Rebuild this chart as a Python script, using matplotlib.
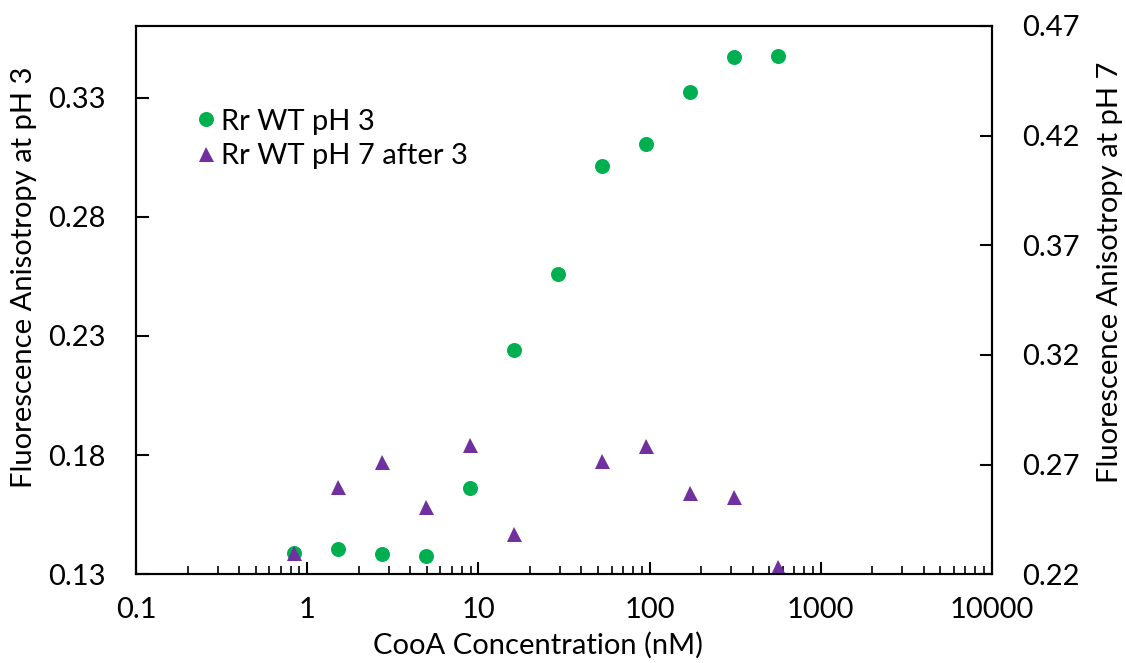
import matplotlib

matplotlib.use("Agg")
import matplotlib.pyplot as plt
from matplotlib.lines import Line2D
from matplotlib.ticker import FixedLocator, LogLocator, NullFormatter

# CooA concentration (nM)
conc_ph3 = [0.84, 1.52, 2.75, 4.94, 8.93, 16.1, 29.2, 52.7, 95.3, 172, 311, 562]
aniso_ph3 = [0.1388, 0.1407, 0.1384, 0.1377, 0.1663, 0.2241, 0.2560,
             0.3013, 0.3105, 0.3323, 0.3470, 0.3474]

conc_ph7 = [0.84, 1.52, 2.75, 4.94, 8.93, 16.1, 52.7, 95.3, 172, 311, 562]
aniso_ph7 = [0.2297, 0.2599, 0.2713, 0.2505, 0.2790, 0.2382, 0.2717,
             0.2785, 0.2569, 0.2554, 0.2235]

left_ticks = [0.13, 0.18, 0.23, 0.28, 0.33]
right_ticks = [0.22, 0.27, 0.32, 0.37, 0.42, 0.47]
x_ticks = [0.1, 1, 10, 100, 1000, 10000]
x_labels = ["0.1", "1", "10", "100", "1000", "10000"]

GREEN = "#00B050"
PURPLE = "#7030A0"
FS = 21

plt.rcParams.update({"font.family": ["Lato", "DejaVu Sans"], "font.size": FS})

fig = plt.figure(figsize=(11.26, 6.63), dpi=100)
ax = fig.add_axes([136 / 1126, 1 - 574.3 / 663, 856 / 1126, 548.3 / 663])
ax2 = ax.twinx()

ax.plot(conc_ph3, aniso_ph3, "o", color=GREEN, markersize=10.8, markeredgewidth=0)
ax2.plot(conc_ph7, aniso_ph7, "^", color=PURPLE, markersize=10.8, markeredgewidth=0)

ax.set_xscale("log")
ax.set_xlim(0.1, 10000)
ax.xaxis.set_major_locator(FixedLocator(x_ticks))
ax.set_xticklabels(x_labels)
ax.xaxis.set_minor_locator(LogLocator(base=10, subs=range(2, 10), numticks=20))
ax.xaxis.set_minor_formatter(NullFormatter())

ax.set_ylim(0.13, 0.36)
ax.set_yticks(left_ticks)
ax.set_yticklabels([f"{v:.2f}" for v in left_ticks])
ax2.set_ylim(0.22, 0.47)
ax2.set_yticks(right_ticks)
ax2.set_yticklabels([f"{v:.2f}" for v in right_ticks])

for a in (ax, ax2):
    for s in a.spines.values():
        s.set_linewidth(1.5)
        s.set_color("black")
ax.tick_params(axis="x", which="major", direction="in", length=9, width=1.5, pad=16)
ax.tick_params(axis="x", which="minor", direction="in", length=6, width=1.2)
ax.tick_params(axis="y", direction="in", length=9, width=1.5, pad=22)
ax2.tick_params(axis="y", direction="in", length=9, width=1.5, pad=22)

fig.text(24 / 1126, 1 - 277 / 663, "Fluorescence Anisotropy at pH 3",
         rotation=90, ha="center", va="center", fontsize=FS)
fig.text(1110 / 1126, 1 - 272 / 663, "Fluorescence Anisotropy at pH 7",
         rotation=90, ha="center", va="center", fontsize=FS)
fig.text(538 / 1126, 1 - 645 / 663, "CooA Concentration (nM)",
         ha="center", va="center", fontsize=FS)

handles = [
    Line2D([], [], linestyle="none", marker="o", color=GREEN, markersize=10.8,
           markeredgewidth=0, label="Rr WT pH 3"),
    Line2D([], [], linestyle="none", marker="^", color=PURPLE, markersize=10.8,
           markeredgewidth=0, label="Rr WT pH 7 after 3"),
]
ax.legend(handles=handles, loc="upper left", bbox_to_anchor=(0.0545, 0.876),
          frameon=False, handlelength=0.6, handletextpad=0.22, labelspacing=0.28,
          borderpad=0, fontsize=FS)

fig.savefig("out.png", dpi=100)
